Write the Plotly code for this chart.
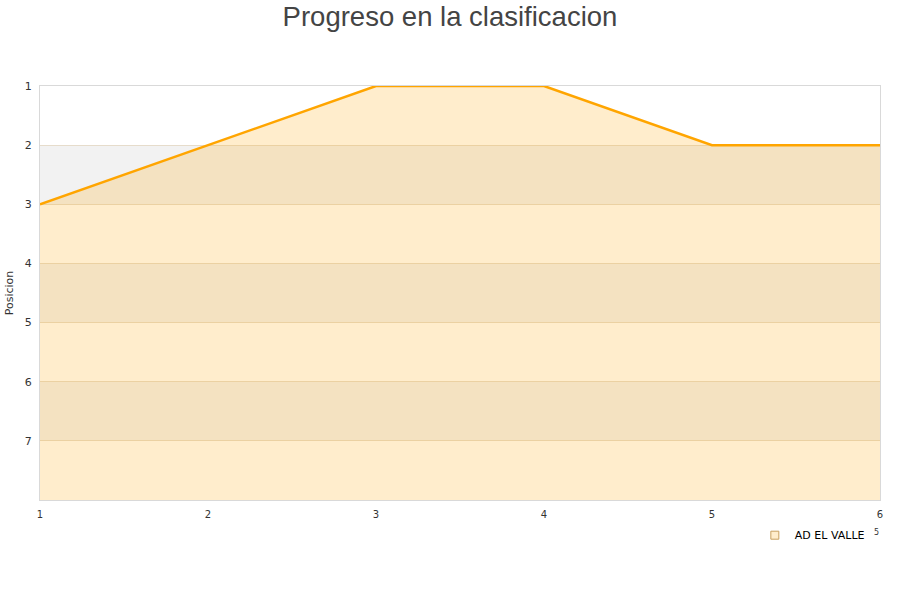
import plotly.graph_objects as go

jornadas = [1, 2, 3, 4, 5, 6]
posicion = [3, 2, 1, 1, 2, 2]
team = "AD EL VALLE"
y_ticks = [1, 2, 3, 4, 5, 6, 7]
y_bottom = 8
band_starts = [2, 4, 6]

fig = go.Figure()

# baseline for fill
fig.add_trace(go.Scatter(x=jornadas, y=[y_bottom] * len(jornadas), mode="lines",
                         line=dict(width=0), showlegend=False, hoverinfo="skip"))
fig.add_trace(go.Scatter(x=jornadas, y=posicion, mode="lines", name=team,
                         line=dict(color="#ffa500", width=2.5),
                         fill="tonexty", fillcolor="rgba(255,165,0,0.2)",
                         showlegend=False))
# legend entry
fig.add_trace(go.Scatter(x=[None], y=[None], mode="markers", name=team,
                         marker=dict(symbol="square", size=8, color="#ffedcc",
                                     line=dict(color="#c8a060", width=1))))

shapes = []
for b in band_starts:
    shapes.append(dict(type="rect", xref="paper", yref="y", x0=0, x1=1, y0=b, y1=b + 1,
                       fillcolor="#f2f2f2", line=dict(width=0), layer="below"))

fig.update_layout(
    width=900, height=600,
    margin=dict(l=40, r=20, t=86, b=100, autoexpand=False),
    paper_bgcolor="white", plot_bgcolor="white",
    title=dict(text="Progreso en la clasificacion", x=0.5, xanchor="center", y=0.973,
               yanchor="middle", automargin=False,
               font=dict(family="Liberation Sans, Arial, sans-serif", size=27.5, color="#444444")),
    font=dict(family="DejaVu Sans, sans-serif", size=11, color="#333333"),
    shapes=shapes,
    showlegend=True,
    legend=dict(x=0.851, y=-0.05, xanchor="left", yanchor="top", orientation="h",
                itemwidth=30,
                font=dict(size=11, color="#000000"), bgcolor="rgba(0,0,0,0)"),
    xaxis=dict(range=[1, 6], tickvals=jornadas, ticks="", showgrid=False, zeroline=False,
               showline=True, linecolor="#d9d9d9", mirror=True, automargin=False,
               ticklabelstandoff=5,
               tickfont=dict(size=10, color="#333333")),
    yaxis=dict(range=[y_bottom, 1], tickvals=y_ticks, ticks="", showgrid=True,
               gridcolor="#e6dccb", zeroline=False, showline=True, linecolor="#d9d9d9",
               mirror=True, automargin=False, ticklabelstandoff=5,
               title=dict(text="Posicion", font=dict(size=11), standoff=8),
               tickfont=dict(size=11, color="#333333")),
    annotations=[dict(text="5", x=(876 - 40) / 840, y=(500 - 532) / 414, xref="paper",
                      yref="paper", showarrow=False, xanchor="center", yanchor="middle",
                      font=dict(size=8, color="#333333"))],
)

fig.write_html("out.html", config={"displayModeBar": False},
               post_script="document.body.style.margin='0';")
